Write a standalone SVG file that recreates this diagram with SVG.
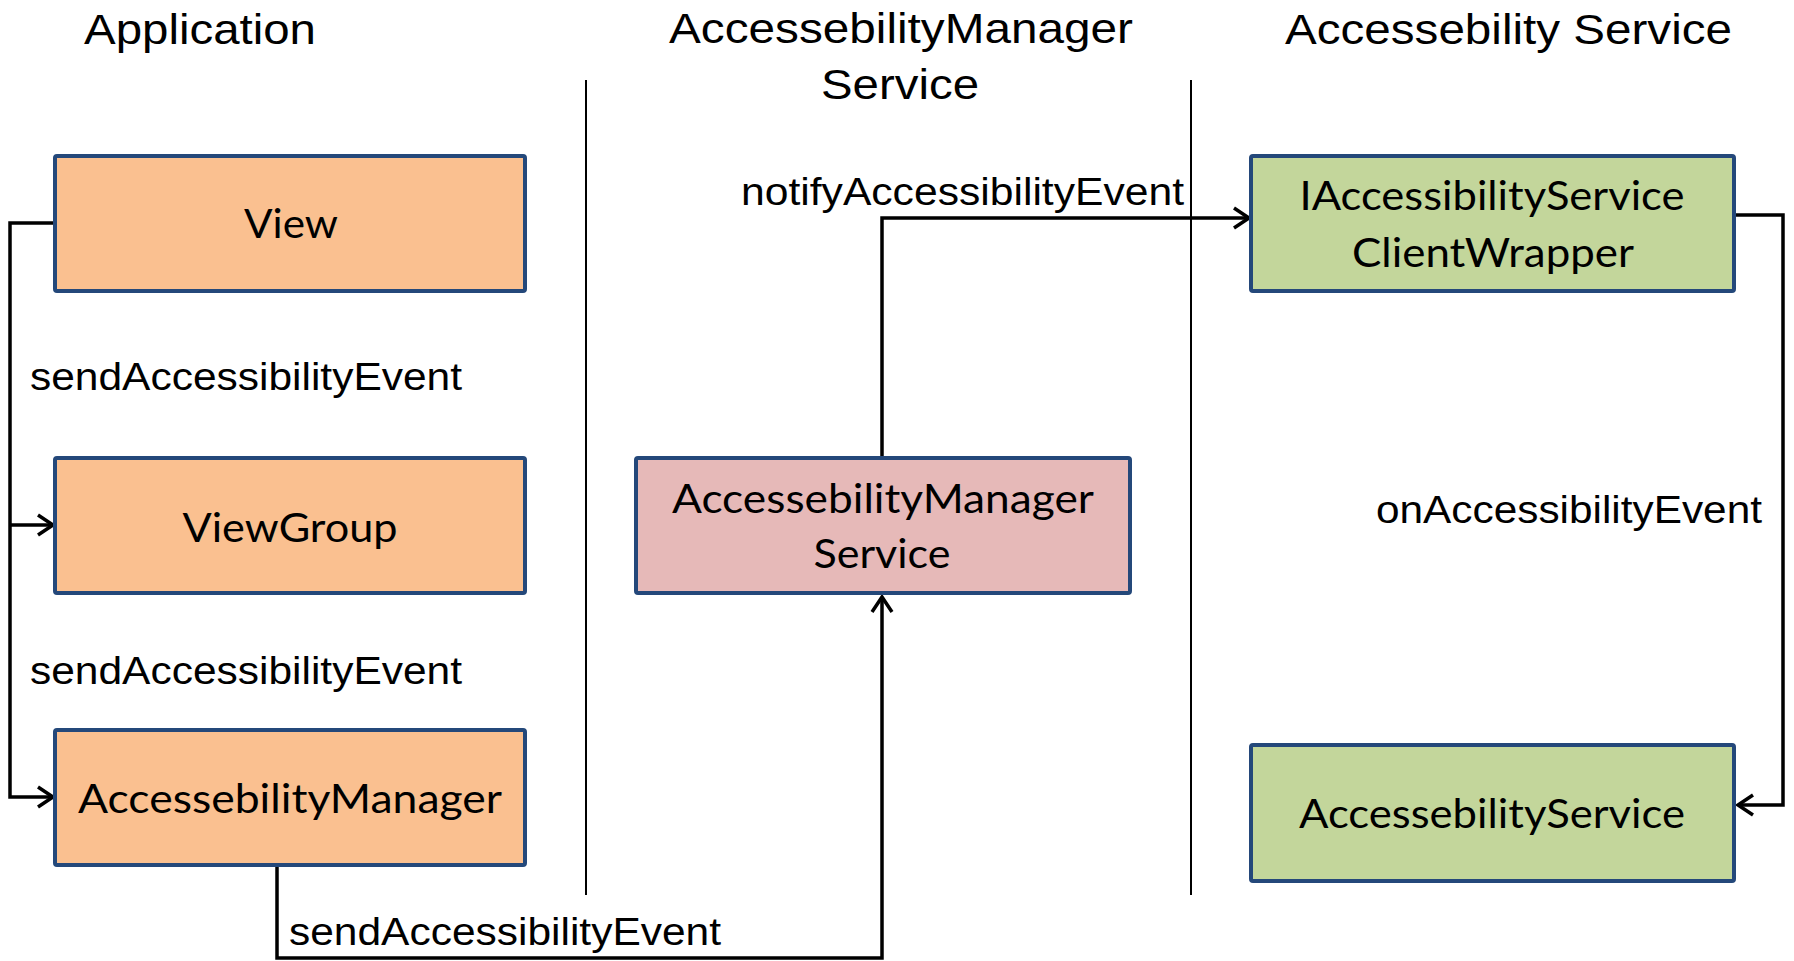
<svg xmlns="http://www.w3.org/2000/svg" width="1794" height="961" viewBox="0 0 1794 961">
<style>
.title{font-family:"Liberation Sans",Arial,sans-serif;font-size:42px;fill:#000}
.lbl{font-family:"Liberation Sans",Arial,sans-serif;font-size:38px;fill:#000}
.bt{font-family:Lato,"Open Sans",sans-serif;font-size:40px;fill:#000;text-anchor:middle}
.box{stroke:#24487A;stroke-width:4}
.orange{fill:#FAC090}
.pink{fill:#E6B9B8}
.green{fill:#C3D69B}
.conn{fill:none;stroke:#000;stroke-width:3.5}
.div{stroke:#000;stroke-width:2}
</style>
<defs>
<marker id="arr" markerUnits="userSpaceOnUse" markerWidth="30" markerHeight="30" viewBox="-20 -15 30 30" refX="0" refY="0" orient="auto" overflow="visible">
<path d="M-15,-10 L0,0 L-15,10" fill="none" stroke="#000" stroke-width="3.5" stroke-linejoin="miter"/>
</marker>
</defs>
<rect width="1794" height="961" fill="#fff"/>
<g id="titles">
<text class="title" x="84" y="44" textLength="232" lengthAdjust="spacingAndGlyphs">Application</text>
<text class="title" x="669" y="43" textLength="464" lengthAdjust="spacingAndGlyphs">AccessebilityManager</text>
<text class="title" x="821" y="99" textLength="158" lengthAdjust="spacingAndGlyphs">Service</text>
<text class="title" x="1285" y="44" textLength="447" lengthAdjust="spacingAndGlyphs">Accessebility Service</text>
</g>
<g id="dividers">
<line class="div" x1="586" y1="80" x2="586" y2="895"/>
<line class="div" x1="1191" y1="80" x2="1191" y2="895"/>
</g>
<g id="connectors">
<path class="conn" d="M55,223 H10 V797 H53" marker-end="url(#arr)"/>
<path class="conn" d="M10,525 H53" marker-end="url(#arr)"/>
<path class="conn" d="M277,867 V958 H882 V597" marker-end="url(#arr)"/>
<path class="conn" d="M882,456 V218 H1249" marker-end="url(#arr)"/>
<path class="conn" d="M1736,215 H1783 V805 H1738" marker-end="url(#arr)"/>
<text class="lbl" x="30" y="390" textLength="432" lengthAdjust="spacingAndGlyphs">sendAccessibilityEvent</text>
<text class="lbl" x="30" y="684" textLength="432" lengthAdjust="spacingAndGlyphs">sendAccessibilityEvent</text>
<text class="lbl" x="289" y="945" textLength="432" lengthAdjust="spacingAndGlyphs">sendAccessibilityEvent</text>
<text class="lbl" x="741" y="205" textLength="443" lengthAdjust="spacingAndGlyphs">notifyAccessibilityEvent</text>
<text class="lbl" x="1376" y="523" textLength="386" lengthAdjust="spacingAndGlyphs">onAccessibilityEvent</text>
</g>
<g id="node-view">
<rect class="box orange" x="55" y="156" width="470" height="135" rx="2"/>
<text class="bt" x="291" y="238" textLength="94" lengthAdjust="spacingAndGlyphs">View</text>
</g>
<g id="node-viewgroup">
<rect class="box orange" x="55" y="458" width="470" height="135" rx="2"/>
<text class="bt" x="290" y="542" textLength="215" lengthAdjust="spacingAndGlyphs">ViewGroup</text>
</g>
<g id="node-accessebilitymanager">
<rect class="box orange" x="55" y="730" width="470" height="135" rx="2"/>
<text class="bt" x="290" y="813" textLength="424" lengthAdjust="spacingAndGlyphs">AccessebilityManager</text>
</g>
<g id="node-ams">
<rect class="box pink" x="636" y="458" width="494" height="135" rx="2"/>
<text class="bt" x="883" y="513" textLength="422" lengthAdjust="spacingAndGlyphs">AccessebilityManager</text>
<text class="bt" x="882" y="568" textLength="137" lengthAdjust="spacingAndGlyphs">Service</text>
</g>
<g id="node-clientwrapper">
<rect class="box green" x="1251" y="156" width="483" height="135" rx="2"/>
<text class="bt" x="1492" y="210" textLength="385" lengthAdjust="spacingAndGlyphs">IAccessibilityService</text>
<text class="bt" x="1493" y="267" textLength="282" lengthAdjust="spacingAndGlyphs">ClientWrapper</text>
</g>
<g id="node-accessebilityservice">
<rect class="box green" x="1251" y="745" width="483" height="136" rx="2"/>
<text class="bt" x="1492" y="828" textLength="386" lengthAdjust="spacingAndGlyphs">AccessebilityService</text>
</g>
</svg>
